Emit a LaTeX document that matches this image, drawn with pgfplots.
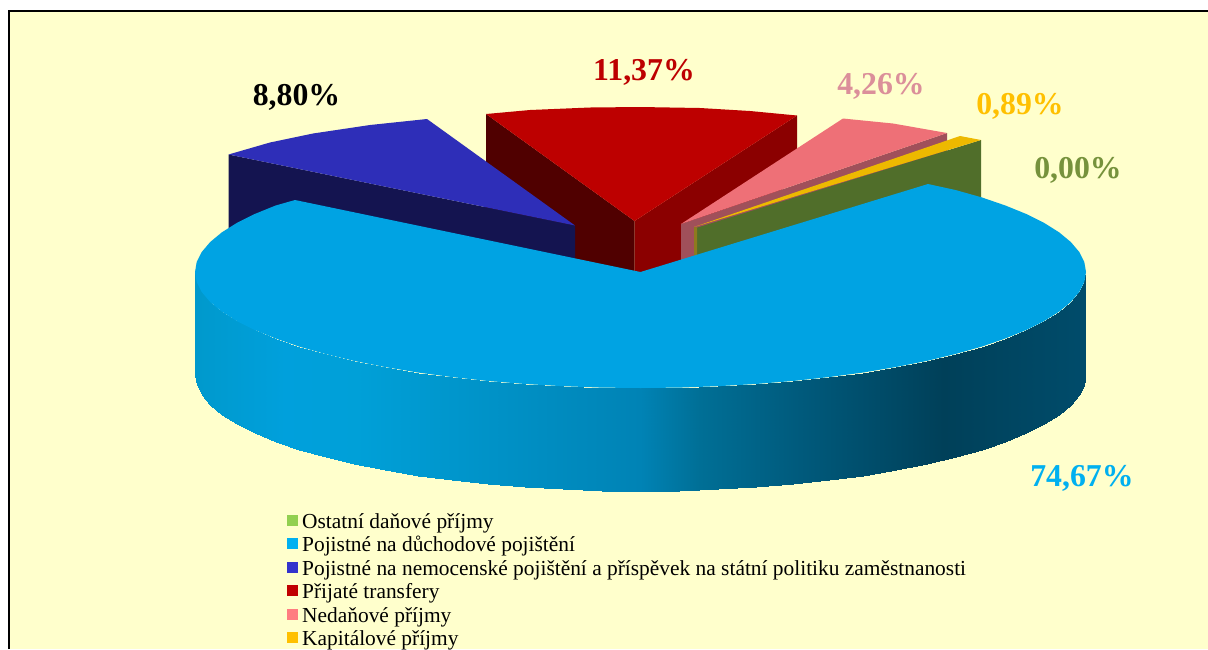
\documentclass[border=0pt]{standalone}
\usepackage{pgfplots}
\pgfplotsset{compat=1.18}
\usepackage{fontspec}
\setmainfont{Liberation Serif}
\definecolor{bg}{HTML}{FFFFCC}
\definecolor{bigtop}{HTML}{00A3E3}
\definecolor{navytop}{HTML}{2E2EB8}
\definecolor{navyside}{HTML}{141450}
\definecolor{redtop}{HTML}{BD0000}
\definecolor{redleft}{HTML}{500000}
\definecolor{redright}{HTML}{8B0000}
\definecolor{pinktop}{HTML}{EE7077}
\definecolor{pinkside}{HTML}{A0505A}
\definecolor{yellowtop}{HTML}{EDB900}
\definecolor{yellowside}{HTML}{8E7A1E}
\definecolor{greenside}{HTML}{506E2A}
\newcommand{\lab}{\fontsize{31.8}{31.8}\selectfont\bfseries}
\begin{document}
\begin{tikzpicture}
\path[use as bounding box] (0,0) rectangle (1208pt,649pt);
\begin{axis}[
  at={(0,0)}, anchor=south west,
  scale only axis, width=1208pt, height=649pt,
  xmin=0, xmax=1208, ymin=0, ymax=649, y dir=reverse,
  hide axis, clip=true,
  colormap={side}{rgb255(195)=(0,153,204) rgb255(285)=(0,160,220) rgb255(356)=(0,160,216)
    rgb255(640)=(0,131,181) rgb255(700)=(0,111,150) rgb255(800)=(0,90,124)
    rgb255(943)=(0,64,89) rgb255(1086)=(0,76,107)},
  legend cell align=left,
  legend image code/.code={\fill[#1,draw=none] (0pt,-1.3pt) rectangle (10.7pt,9.4pt); \path (15pt,0pt);},
  legend style={at={(axis cs:287,512.5)}, anchor=north west, draw=none, fill=none,
    inner sep=0pt, outer sep=0pt, row sep=0pt,
    font=\fontsize{21.4}{21.4}\selectfont,
    nodes={inner sep=0pt, text height=15.7pt, text depth=7.8pt}},
]
% background and frame
\addplot[forget plot, fill=bg, draw=none] coordinates {(8,10) (1208,10) (1208,649) (8,649)} --cycle;
\addplot[forget plot, draw=black, line width=2.4pt] coordinates {(8.7,649) (8.7,10.7) (1208,10.7)};
% red slice
\addplot[forget plot, fill=redleft, draw=none] coordinates {(486,114) (634.5,221) (634.5,290) (486,260)} --cycle;
\addplot[forget plot, fill=redright, draw=none] coordinates {(797,115.5) (634.5,221) (634.5,285) (700,270) (797,175)} --cycle;
\addplot[forget plot, fill=redtop, draw=none] coordinates {(486,114) (530,110) (590,107.5) (640,107) (700,108) (750,111) (797,115.5) (634.5,221)} --cycle;
% navy slice
\addplot[forget plot, fill=navyside, draw=none] coordinates {(228.5,154.5) (575,225.5) (575,290) (228.5,250)} --cycle;
\addplot[forget plot, fill=navytop, draw=none] coordinates {(228.5,154.5) (270,142.5) (313,133.5) (370,125) (427,119) (575,225.5)} --cycle;
% pink slice
\addplot[forget plot, fill=pinkside, draw=none] coordinates {(681,224) (947,133) (947,180) (681,300)} --cycle;
\addplot[forget plot, fill=pinktop, draw=none] coordinates {(681,224) (843,118.5) (893,123.5) (947,133)} --cycle;
% green (0,00 %) and yellow
\addplot[forget plot, fill=greenside, draw=none] coordinates {(696,228) (981,140) (981,240) (696,300)} --cycle;
\addplot[forget plot, fill=yellowside, draw=none] coordinates {(694,227) (697,227.5) (697,300) (694,300)} --cycle;
\addplot[forget plot, fill=yellowtop, draw=none] coordinates {(694,227) (960,136) (981,140)} --cycle;
% big slice: side wall
\addplot[forget plot, surf, shader=interp, mesh/rows=2, point meta=x] table {
x y
1086 272
1084.3 282.1
1079.2 292.1
1070.8 302
1059.1 311.7
1044.3 321
1026.3 330
1005.4 338.5
981.8 346.6
955.5 354
926.9 360.9
896 367
863.3 372.5
828.8 377.1
792.9 381
755.8 384
717.8 386.2
679.3 387.6
640.5 388
601.7 387.6
563.2 386.2
525.2 384
488.1 381
452.2 377.1
417.7 372.5
385 367
354.1 360.9
325.5 354
299.2 346.6
275.6 338.5
254.7 330
236.7 321
221.9 311.7
210.2 302
201.8 292.1
196.7 282.1
195 272
1086 375
1084.3 385.1
1079.2 395.1
1070.8 405
1059.1 414.7
1044.3 424
1026.3 433
1005.4 441.5
981.8 449.6
955.5 457
926.9 463.9
896 470
863.3 475.5
828.8 480.1
792.9 484
755.8 487
717.8 489.2
679.3 490.6
640.5 491
601.7 490.6
563.2 489.2
525.2 487
488.1 484
452.2 480.1
417.7 475.5
385 470
354.1 463.9
325.5 457
299.2 449.6
275.6 441.5
254.7 433
236.7 424
221.9 414.7
210.2 405
201.8 395.1
196.7 385.1
195 375
};
% big slice: top face
\addplot[forget plot, fill=bigtop, draw=none] coordinates {
(640.5,272) (928,184) (955.5,190) (981.8,197.4) (1005.4,205.5) (1026.3,214) (1044.3,223)
(1059.1,232.3) (1070.8,242) (1079.2,251.9) (1084.3,261.9) (1086,272)
(1084.3,282.1) (1079.2,292.1) (1070.8,302) (1059.1,311.7) (1044.3,321) (1026.3,330)
(1005.4,338.5) (981.8,346.6) (955.5,354) (926.9,360.9) (896,367) (863.3,372.5)
(828.8,377.1) (792.9,381) (755.8,384) (717.8,386.2) (679.3,387.6) (640.5,388)
(601.7,387.6) (563.2,386.2) (525.2,384) (488.1,381) (452.2,377.1) (417.7,372.5)
(385,367) (354.1,360.9) (325.5,354) (299.2,346.6) (275.6,338.5) (254.7,330)
(236.7,321) (221.9,311.7) (210.2,302) (201.8,292.1) (196.7,282.1) (195,272)
(196.7,261.9) (201.8,251.9) (210.2,242) (221.9,232.3) (236.7,223) (254.7,214)
(275.6,205.5) (295,200)
} --cycle;
% labels
\node[anchor=base, text=black] at (axis cs:296.5,105) {\lab 8,80\%};
\node[anchor=base, text=redtop] at (axis cs:644,80) {\lab 11,37\%};
\node[anchor=base, text={rgb,255:red,219;green,143;blue,154}] at (axis cs:881,94) {\lab 4,26\%};
\node[anchor=base, text={rgb,255:red,255;green,192;blue,0}] at (axis cs:1020,114) {\lab 0,89\%};
\node[anchor=base, text={rgb,255:red,118;green,146;blue,60}] at (axis cs:1078,178) {\lab 0,00\%};
\node[anchor=base, text={rgb,255:red,0;green,176;blue,240}] at (axis cs:1082,486) {\lab 74,67\%};
% legend
\addlegendimage{fill={rgb,255:red,146;green,208;blue,80}}
\addlegendentry{Ostatní daňové příjmy}
\addlegendimage{fill={rgb,255:red,0;green,176;blue,240}}
\addlegendentry{Pojistné na důchodové pojištění}
\addlegendimage{fill={rgb,255:red,51;green,51;blue,204}}
\addlegendentry{Pojistné na nemocenské pojištění a příspěvek na státní politiku zaměstnanosti}
\addlegendimage{fill={rgb,255:red,192;green,0;blue,0}}
\addlegendentry{Přijaté transfery}
\addlegendimage{fill={rgb,255:red,255;green,124;blue,128}}
\addlegendentry{Nedaňové příjmy}
\addlegendimage{fill={rgb,255:red,255;green,192;blue,0}}
\addlegendentry{Kapitálové příjmy}
\end{axis}
\end{tikzpicture}
\end{document}
